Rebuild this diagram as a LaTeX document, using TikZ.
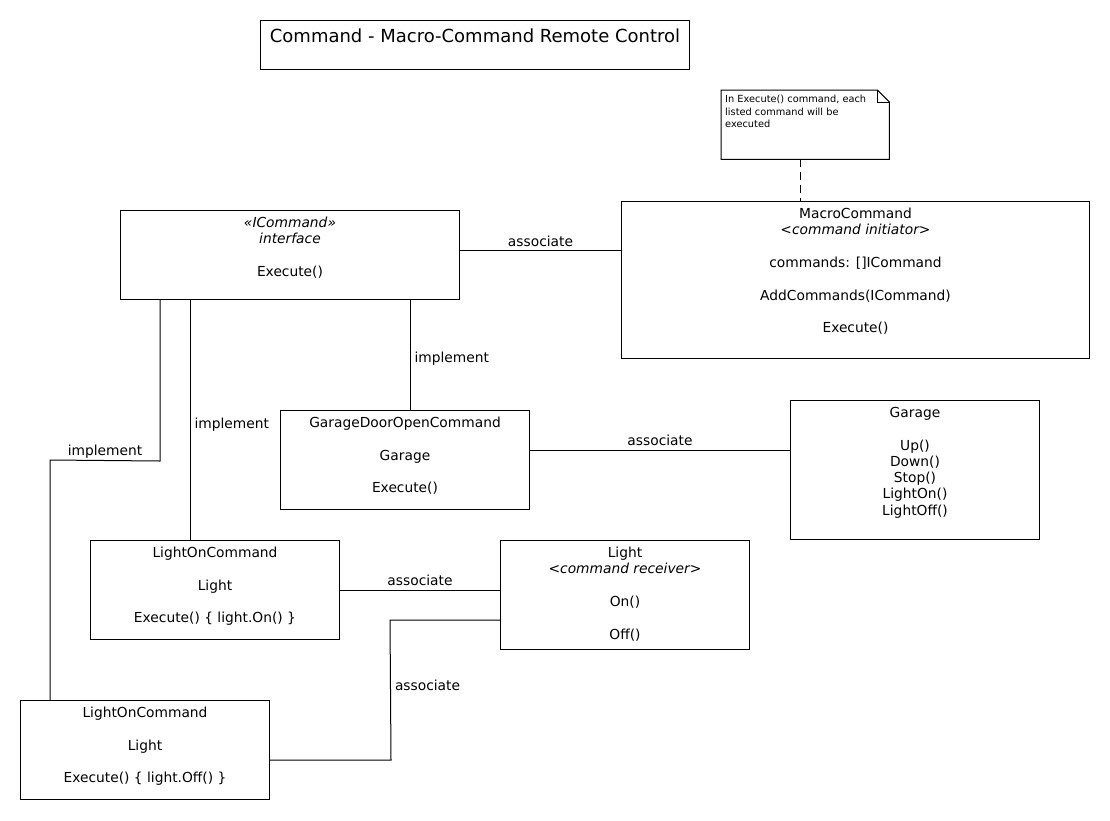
\documentclass[tikz,border=0pt]{standalone}
\usepackage{fontspec}
\setmainfont{DejaVu Sans}[ItalicFont={DejaVu Sans Oblique}]
\usetikzlibrary{calc}
\begin{document}
\begin{tikzpicture}[x=1pt,y=-1pt,
  box/.style={draw, line width=1pt, inner sep=0pt, anchor=north west},
  txt/.style={anchor=north, inner sep=0pt, align=center, font=\fontsize{13.8}{16.3}\selectfont},
  lbl/.style={inner sep=0pt, font=\fontsize{13.8}{16.3}\selectfont},
  conn/.style={line width=1pt}]
\useasboundingbox (0,0) rectangle (1110,820);
\fill[white] (0,0) rectangle (1110,820);

% title
\node[box, minimum width=429pt, minimum height=49pt] (title) at (260,20) {};
\node[anchor=north, inner sep=0pt, font=\fontsize{18}{21}\selectfont] (titlet) at ([yshift=-9pt]title.north) {Command - Macro-Command Remote Control};

% note
\node[inner sep=0pt, anchor=north west, minimum width=168pt, minimum height=69pt] (note) at (721,90) {};
\draw[line width=1pt] (note.north west) -- ([xshift=-12pt]note.north east) -- ([yshift=-12pt]note.north east) -- (note.south east) -- (note.south west) -- cycle;
\draw[line width=1pt] ([xshift=-12pt]note.north east) -- ([xshift=-12pt,yshift=-12pt]note.north east) -- ([yshift=-12pt]note.north east);
\node[anchor=north west, inner sep=0pt, align=left, font=\fontsize{9.8}{12.5}\selectfont] (notet) at ([xshift=4pt,yshift=-5pt]note.north west) {In Execute() command, each\\listed command will be\\executed};

% boxes
\node[box, minimum width=468pt, minimum height=157pt] (macro) at (621,201) {};
\node[txt] (macrot) at ([yshift=-7pt]macro.north) {MacroCommand\\\textit{<command initiator>}\\ \\commands: []ICommand\\ \\AddCommands(ICommand)\\ \\Execute()};

\node[box, minimum width=339pt, minimum height=89pt] (icmd) at (120,210) {};
\node[txt] (icmdt) at ([yshift=-7pt]icmd.north) {\textit{«ICommand»}\\\textit{interface}\\ \\Execute()};

\node[box, minimum width=249pt, minimum height=99pt] (gdoc) at (280,410) {};
\node[txt] (gdoct) at ([yshift=-7pt]gdoc.north) {GarageDoorOpenCommand\\ \\Garage\\ \\Execute()};

\node[box, minimum width=249pt, minimum height=139pt] (garage) at (790,400) {};
\node[txt] (garaget) at ([yshift=-7pt]garage.north) {Garage\\ \\Up()\\Down()\\Stop()\\LightOn()\\LightOff()};

\node[box, minimum width=249pt, minimum height=99pt] (lon) at (90,540) {};
\node[txt] (lont) at ([yshift=-7pt]lon.north) {LightOnCommand\\ \\Light\\ \\Execute() \{ light.On() \}};

\node[box, minimum width=249pt, minimum height=109pt] (light) at (500,540) {};
\node[txt] (lightt) at ([yshift=-7pt]light.north) {Light\\\textit{<command receiver>}\\ \\On()\\ \\Off()};

\node[box, minimum width=249pt, minimum height=99pt] (loff) at (20,700) {};
\node[txt] (lofft) at ([yshift=-7pt]loff.north) {LightOnCommand\\ \\Light\\ \\Execute() \{ light.Off() \}};

% connector end points
\coordinate (n0) at ($(note.south west)+(79,0)$);
\coordinate (a1) at ($(icmd.north east)+(0,40)$);
\coordinate (a2) at ($(icmd.south west)+(290,0)$);
\coordinate (a3) at ($(gdoc.north east)+(0,40)$);
\coordinate (a4) at ($(icmd.south west)+(70,0)$);
\coordinate (a5) at ($(icmd.south west)+(40,0)$);
\coordinate (c5) at ($(icmd.south west)+(40,161)$);
\coordinate (c6) at ($(loff.north west)+(30,-240)$);
\coordinate (a5e) at ($(loff.north west)+(30,0)$);
\coordinate (a6) at ($(lon.north east)+(0,50)$);
\coordinate (a7) at ($(loff.north east)+(0,60)$);
\coordinate (c7) at ($(loff.north east)+(121,60)$);
\coordinate (c8) at ($(light.north west)+(-110,80)$);
\coordinate (a7e) at ($(light.north west)+(0,80)$);

% connectors
\draw[conn, dash pattern=on 8pt off 5pt] (n0) -- (n0 |- macro.north);

\draw[conn] (a1) -- node[lbl, midway, anchor=base, yshift=4pt] (l1) {associate} (a1 -| macro.west);

\draw[conn] (a2) -- node[lbl, midway, anchor=west, xshift=4pt, yshift=-4pt] (l2) {implement} (a2 |- gdoc.north);

\draw[conn] (a3) -- node[lbl, midway, anchor=base, yshift=5pt] (l3) {associate} (a3 -| garage.west);

\draw[conn] (a4) -- node[lbl, midway, anchor=west, xshift=4pt, yshift=-5pt] (l4) {implement} (a4 |- lon.north);

\draw[conn] (a5) -- (c5) -- node[lbl, midway, anchor=base, yshift=5pt] (l5) {implement} (c6) -- (a5e);

\draw[conn] (a6) -- node[lbl, midway, anchor=base, yshift=5pt] (l6) {associate} (a6 -| light.west);

\draw[conn] (a7) -- (c7) -- node[lbl, midway, anchor=west, xshift=4pt, yshift=5pt] (l7) {associate} (c8) -- (a7e);
\end{tikzpicture}
\end{document}
